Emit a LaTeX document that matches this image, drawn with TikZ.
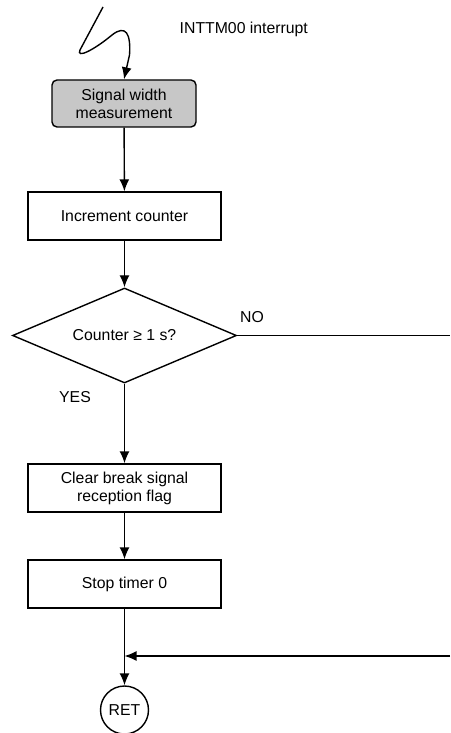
\documentclass[tikz,border=0pt]{standalone}
\usepackage{fontspec}
\setmainfont{Liberation Sans}
\usepackage{tikz}
\usetikzlibrary{shapes.geometric,arrows,arrows.meta,positioning,calc}
\tikzstyle{procbox} = [draw, rectangle, line width=1.4pt, minimum width=193pt, minimum height=48pt, align=center, inner sep=0pt]
\tikzstyle{startbox} = [draw, rectangle, rounded corners=5pt, fill=black!22, line width=1.4pt, minimum width=144pt, minimum height=47pt, align=center, inner sep=0pt]
\tikzstyle{decbox} = [draw, diamond, aspect=2.37, line width=1.4pt, minimum width=224pt, minimum height=95pt, inner sep=0pt]
\tikzstyle{endbox} = [draw, circle, line width=1.4pt, minimum size=48pt, inner sep=0pt]
\tikzstyle{mybox} = [draw=none, rectangle, inner sep=0pt]

\begin{document}
\begin{tikzpicture}[x=1pt,y=-1pt,line width=1.4pt,>={Latex[length=12pt,width=10pt]},
    font=\fontsize{15.8}{18}\selectfont]
  \useasboundingbox (0,0) rectangle (450,733);
  % entry
  \coordinate (src) at (103,7);
  \node[mybox, anchor=west] (intr) at (179,29) {INTTM00 interrupt};
  \node[startbox] (sig) at (124,103.5) {Signal width\\measurement};
  \draw[->] (src) -- (80,50) .. controls (76,59) and (94,50) .. (112,35)
     .. controls (126,24) and (131,34) .. (129.5,55) -- (sig.north);
  % main column
  \node[procbox] (incr) at (124.5,216) {Increment counter};
  \node[decbox] (chk) at (124.5,335.5) {Counter ≥ 1 s?};
  \node[procbox] (clr) at (124.5,488) {Clear break signal\\reception flag};
  \node[procbox] (stop) at (124.5,584) {Stop timer 0};
  \node[endbox] (ret) at (124.5,710) {RET};
  \draw[->] (sig) -- (incr);
  \draw[->] (incr) -- (chk);
  \draw[->] (chk) -- (clr);
  \draw[->] (clr) -- (stop);
  \draw[->] (stop) -- (ret);
  \node[mybox] (yes) at (75,397) {YES};
  \node[mybox] (no) at (252,317) {NO};
  % branch lines
  \coordinate (noend) at (450,335.5);
  \coordinate (back) at (450,656);
  \coordinate (merge) at (124.5,656);
  \draw (chk.east) -- (noend);
  \draw[->] (back) -- (merge);
\end{tikzpicture}
\end{document}
